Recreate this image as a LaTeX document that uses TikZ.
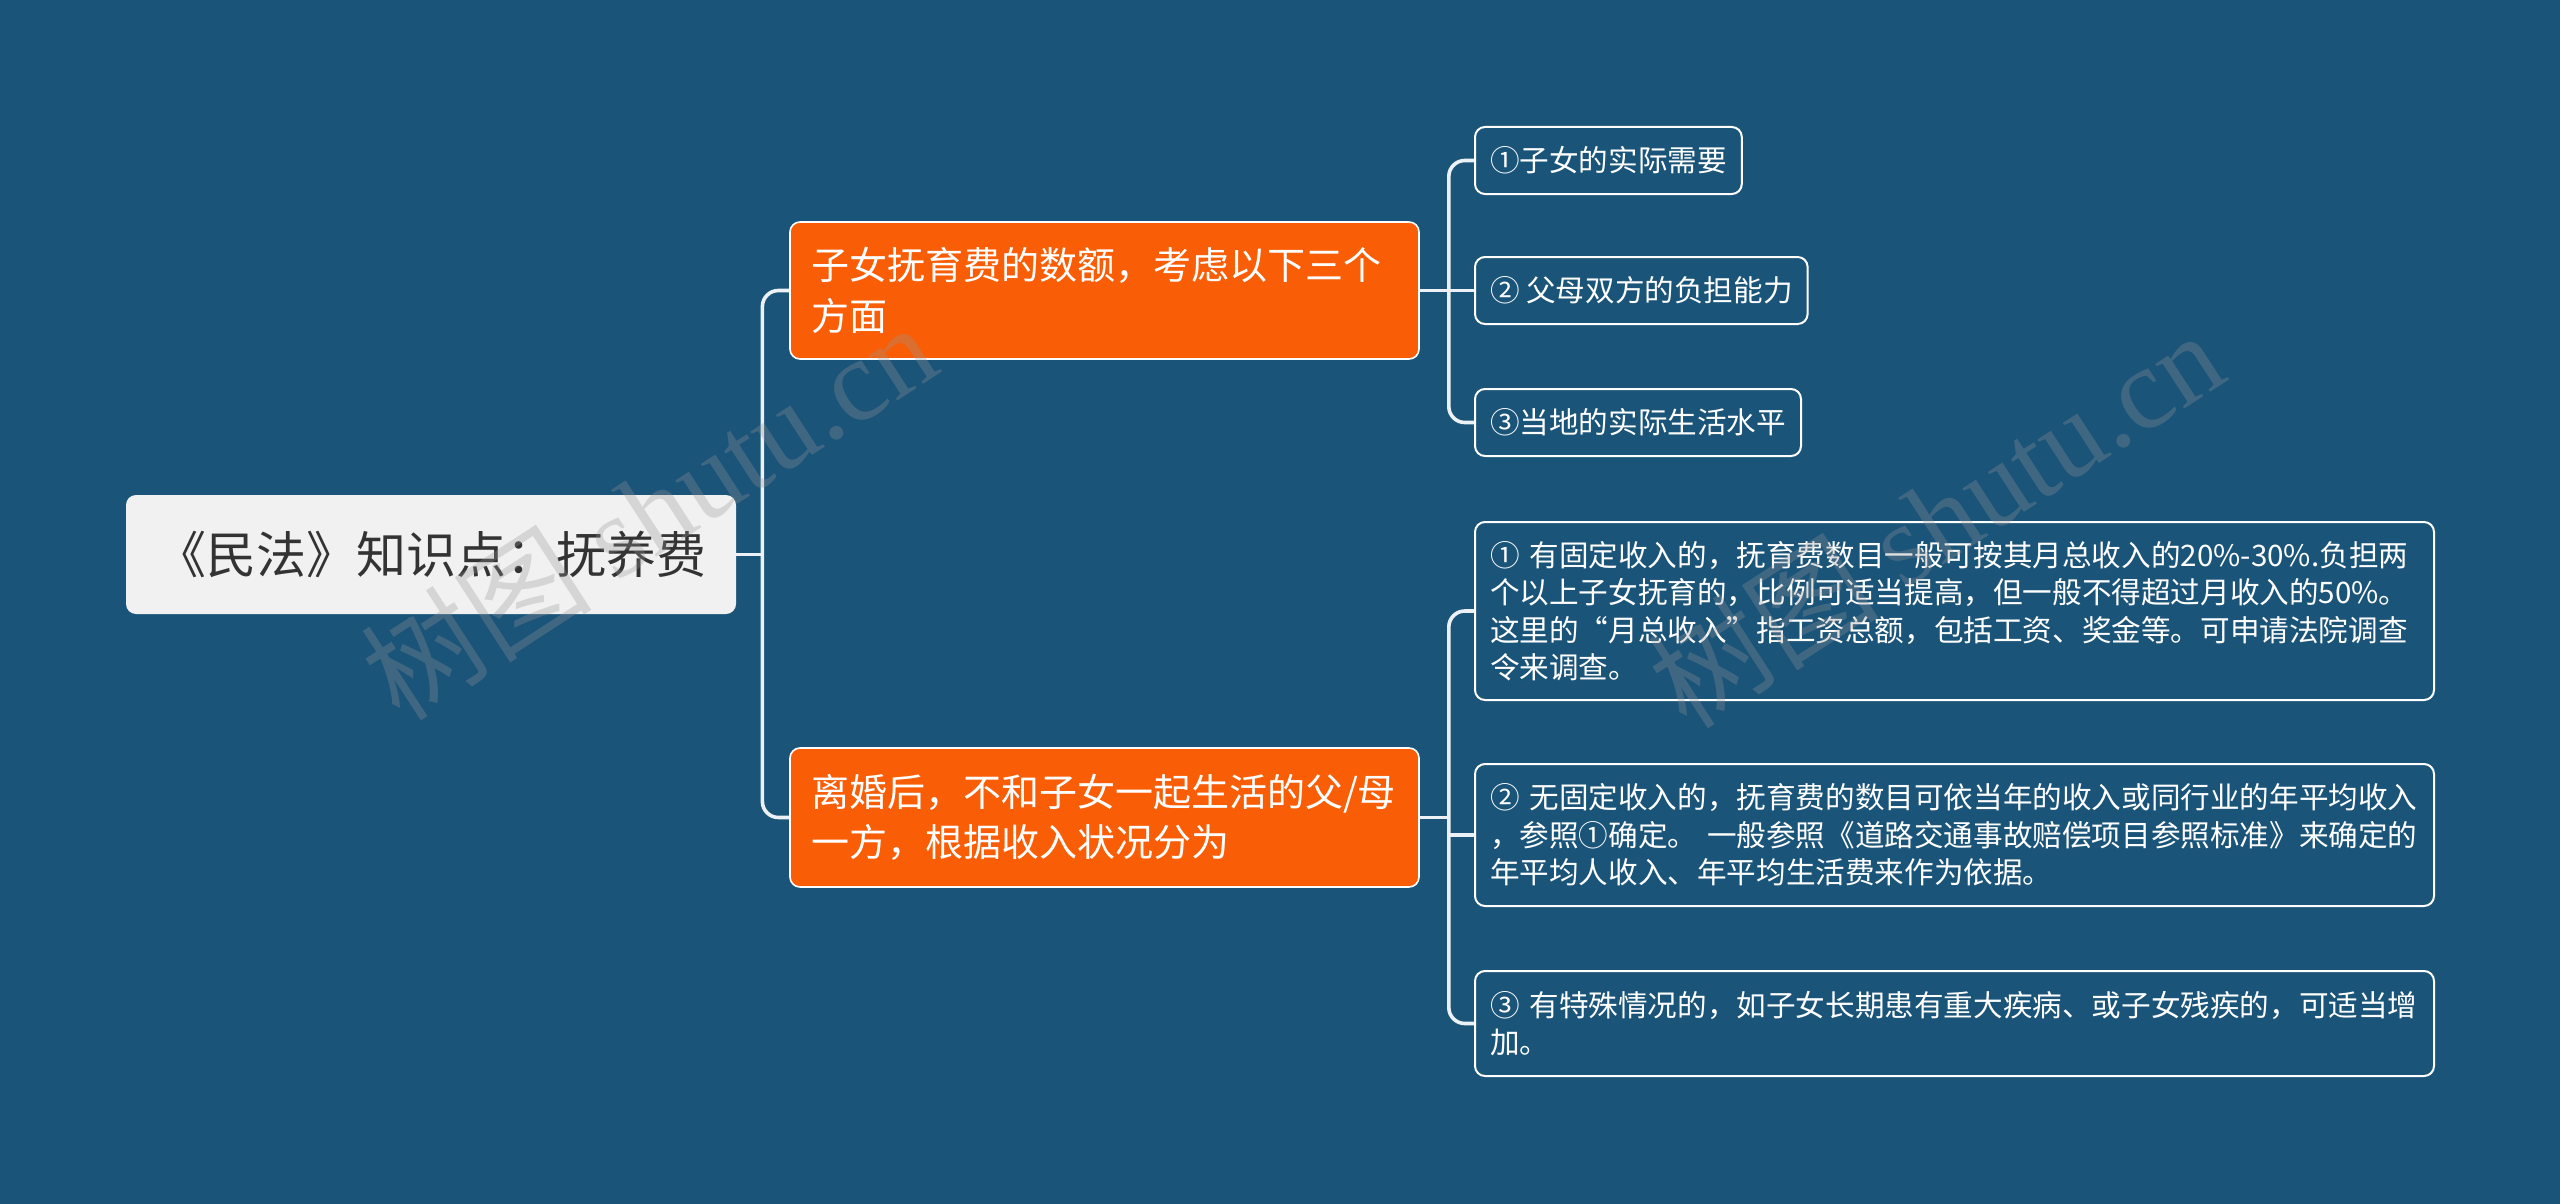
\documentclass[tikz,border=0pt]{standalone}
\usepackage{fontspec}
\newfontfamily\cjk{Noto Sans CJK SC}
\newfontfamily\wmserif{Liberation Serif}
\usetikzlibrary{calc}
\definecolor{bg}{RGB}{27,84,121}
\definecolor{orangefill}{RGB}{249,93,6}
\definecolor{rootfill}{RGB}{241,241,241}
\definecolor{roottext}{RGB}{51,51,51}
\definecolor{linecol}{RGB}{236,241,245}
\definecolor{wmgray}{RGB}{150,150,150}
\tikzset{
  rootbox/.style={fill=rootfill, draw=none, rounded corners=5pt, minimum width=305pt,
    minimum height=59.5pt, inner sep=0pt, text=roottext, font=\cjk\fontsize{25}{30}\selectfont},
  orangebox/.style={fill=orangefill, draw=white, line width=0.8pt, rounded corners=5pt,
    text width=293.5pt, inner xsep=10.5pt, inner ysep=0pt, align=left, text=white,
    font=\cjk\fontsize{19}{25.3}\selectfont},
  leafbox/.style={fill=bg, draw=white, line width=1pt, rounded corners=5pt,
    inner xsep=7.5pt, inner ysep=0pt, minimum height=33.5pt, text=white,
    font=\cjk\fontsize{14.8}{18.75}\selectfont},
  bigleaf/.style={leafbox, text width=464.5pt, align=left},
  conn/.style={draw=linecol, line width=1.8pt, rounded corners=8pt},
  watermark/.style={text=wmgray, opacity=0.3, rotate=33, inner sep=0pt}
}
\begin{document}
\begin{tikzpicture}[x=0.5pt,y=-0.5pt]
\fill[bg] (0,0) rectangle (2560,1204);
\useasboundingbox (0,0) rectangle (2560,1204);

% nodes
\node[rootbox] (root) at (431,554.5) {《民法》知识点：抚养费};
\node[orangebox, minimum height=68.5pt] (o1) at (1104.5,290.5)
  {\mbox{子女抚育费的数额，考虑以下三个}\\方面};
\node[orangebox, minimum height=69.5pt] (o2) at (1104.5,817.5)
  {\mbox{离婚后，不和子女一起生活的父/母}\\\mbox{一方，根据收入状况分为}};

\node[leafbox, anchor=west] (a1) at (1474,160.5) {①子女的实际需要};
\node[leafbox, anchor=west] (a2) at (1474,290.5) {②~父母双方的负担能力};
\node[leafbox, anchor=west] (a3) at (1474,422.5) {③当地的实际生活水平};

\node[bigleaf, minimum height=89pt, anchor=west] (b1) at (1474,611)
  {\mbox{①~有固定收入的，抚育费数目一般可按其月总收入的20\%{-}30\%.负担两}\\
   \mbox{个以上子女抚育的，比例可适当提高，但一般不得超过月收入的50\%。}\\
   \mbox{这里的“月总收入”指工资总额，包括工资、奖金等。可申请法院调查}\\
   \mbox{令来调查。}};
\node[bigleaf, minimum height=71pt, anchor=west] (b2) at (1474,835)
  {\mbox{②~无固定收入的，抚育费的数目可依当年的收入或同行业的年平均收入}\\
   \mbox{，参照①确定。~一般参照《道路交通事故赔偿项目参照标准》来确定的}\\
   \mbox{年平均人收入、年平均生活费来作为依据。}};
\node[bigleaf, minimum height=52.5pt, anchor=west] (b3) at (1474,1023.5)
  {\mbox{③~有特殊情况的，如子女长期患有重大疾病、或子女残疾的，可适当增}\\
   \mbox{加。}};

% connectors
\coordinate (j0) at ([xshift=13pt]root.east);
\draw[conn] (root.east) -- (j0);
\draw[conn] (o1.west) -| (j0) |- (o2.west);

\coordinate (j1) at ([xshift=14.5pt]o1.east);
\draw[conn] (o1.east) -- (j1);
\draw[conn] (a1.west) -| (j1) |- (a3.west);
\draw[conn] (j1) -- (a2.west);

\coordinate (j2) at ([xshift=14.5pt]o2.east);
\draw[conn] (o2.east) -- (j2);
\draw[conn] (b1.west) -| (j2) |- (b3.west);
\draw[conn] (j2 |- b2.west) -- (b2.west);

% watermark
\node[watermark, font=\fontsize{58}{64}\selectfont] (wm1) at (648,510) {\cjk 树图\ \wmserif shutu.cn};
\node[watermark, font=\fontsize{58}{64}\selectfont] (wm2) at (1935,518) {\cjk 树图\ \wmserif shutu.cn};
\end{tikzpicture}
\end{document}
